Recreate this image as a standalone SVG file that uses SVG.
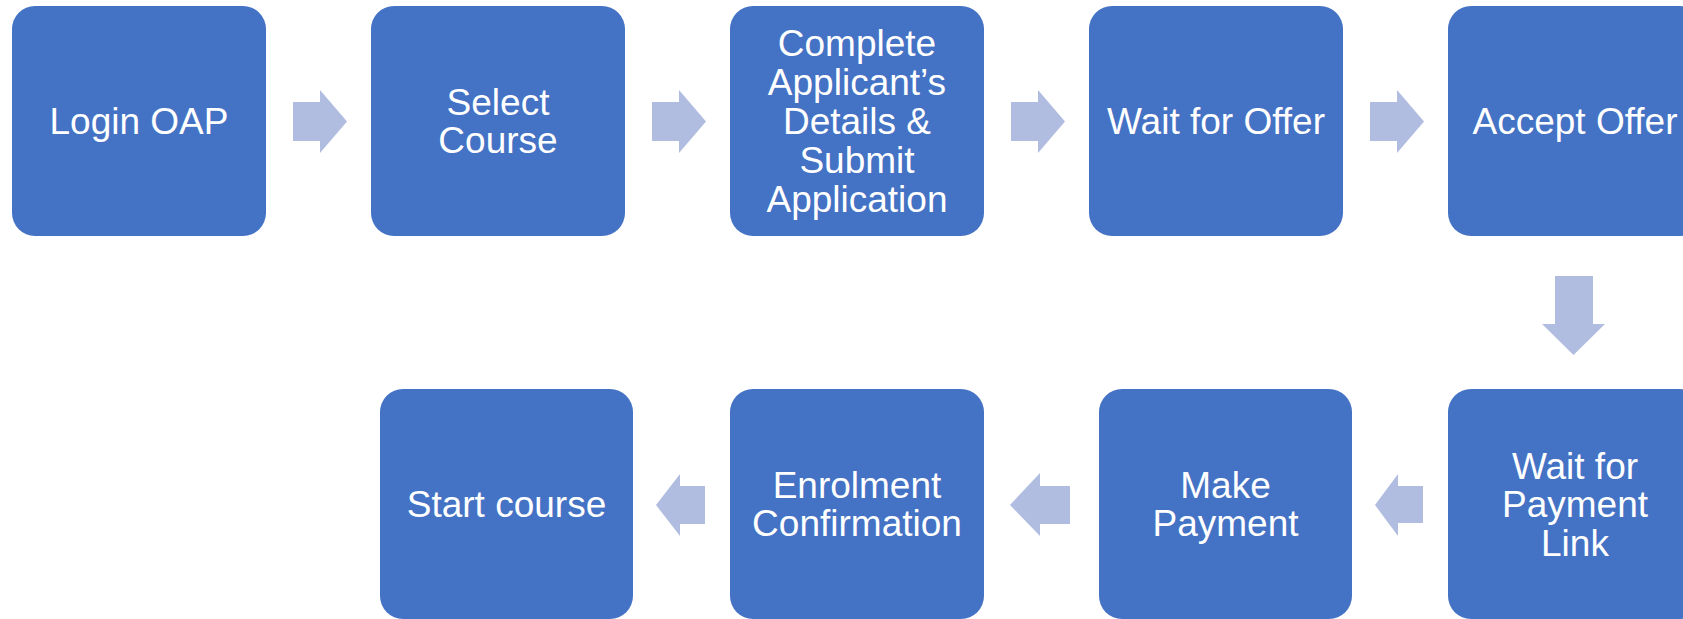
<svg xmlns="http://www.w3.org/2000/svg" width="1683" height="619" viewBox="0 0 1683 619">
<style>
.box{fill:#4472C4;}
.arr{fill:#B0BDE0;}
.t{font-family:"Liberation Sans",Arial,sans-serif;font-size:37px;fill:#FFFFFF;text-anchor:middle;}
</style>
<rect width="1683" height="619" fill="#FFFFFF"/>
<g id="connectors">
<polygon class="arr" points="293,102 320,102 320,90 347,121.5 320,153 320,141 293,141"/>
<polygon class="arr" points="652,102 679,102 679,90 706,121.5 679,153 679,141 652,141"/>
<polygon class="arr" points="1011,102 1038,102 1038,90 1065,121.5 1038,153 1038,141 1011,141"/>
<polygon class="arr" points="1370,102 1397,102 1397,90 1424,121.5 1397,153 1397,141 1370,141"/>
<polygon class="arr" points="1555,276 1593,276 1593,324 1605,324 1573.5,355 1542,324 1555,324"/>
<polygon class="arr" points="1423,486 1398,486 1398,474 1375,505 1398,536 1398,523 1423,523"/>
<polygon class="arr" points="1070,486 1040,486 1040,473 1010,505 1040,536 1040,524 1070,524"/>
<polygon class="arr" points="705,486 680,486 680,474 656,505 680,536 680,524 705,524"/>
</g>
<g id="n1"><rect class="box" x="12" y="6" width="254" height="230" rx="23"/><text class="t" x="139" y="134">Login OAP</text></g>
<g id="n2"><rect class="box" x="371" y="6" width="254" height="230" rx="23"/><text class="t" x="498" y="114.6">Select</text><text class="t" x="498" y="153.4">Course</text></g>
<g id="n3"><rect class="box" x="730" y="6" width="254" height="230" rx="23"/>
<text class="t" x="857" y="56.4">Complete</text><text class="t" x="857" y="95.2">Applicant’s</text><text class="t" x="857" y="134">Details &amp;</text><text class="t" x="857" y="172.8">Submit</text><text class="t" x="857" y="211.6">Application</text></g>
<g id="n4"><rect class="box" x="1089" y="6" width="254" height="230" rx="23"/><text class="t" x="1216" y="134">Wait for Offer</text></g>
<g id="n5"><rect class="box" x="1448" y="6" width="254" height="230" rx="23"/><text class="t" x="1575" y="134">Accept Offer</text></g>
<g id="n6"><rect class="box" x="1448" y="389" width="254" height="230" rx="23"/><text class="t" x="1575" y="478.6">Wait for</text><text class="t" x="1575" y="517.4">Payment</text><text class="t" x="1575" y="556.2">Link</text></g>
<g id="n7"><rect class="box" x="1099" y="389" width="253" height="230" rx="23"/><text class="t" x="1225.5" y="497.6">Make</text><text class="t" x="1225.5" y="536.4">Payment</text></g>
<g id="n8"><rect class="box" x="730" y="389" width="254" height="230" rx="23"/><text class="t" x="857" y="497.6">Enrolment</text><text class="t" x="857" y="536.4">Confirmation</text></g>
<g id="n9"><rect class="box" x="380" y="389" width="253" height="230" rx="23"/><text class="t" x="506.5" y="517">Start course</text></g>
</svg>
